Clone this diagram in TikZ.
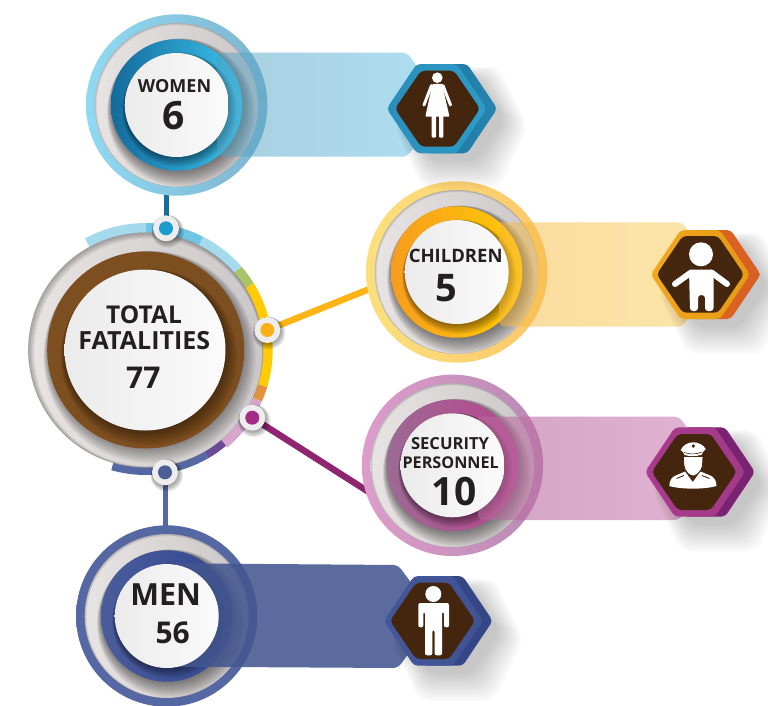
\documentclass[tikz,border=0pt]{standalone}
\usepackage{fontspec}
\setmainfont{Open Sans}
\definecolor{txt}{HTML}{231F20}
\definecolor{brownin}{HTML}{44250D}
\definecolor{brownring}{HTML}{7D4E1F}
\definecolor{greyL}{HTML}{E8E4E3}
\definecolor{greyR}{HTML}{CBC6C7}
\definecolor{whL}{HTML}{EBEBEB}
\definecolor{whR}{HTML}{FBFBFB}
% connectors
\definecolor{HTMLw}{HTML}{136F9C}
\definecolor{HTMLc}{HTML}{FDB515}
\definecolor{HTMLs}{HTML}{8F2470}
\definecolor{HTMLm}{HTML}{5668A3}
% hub arc
\definecolor{HTMLa}{HTML}{A4DAEC}
\definecolor{HTMLb}{HTML}{6EC6E4}
\definecolor{HTMLg}{HTML}{A9C467}
\definecolor{HTMLy}{HTML}{FFCB05}
\definecolor{HTMLo}{HTML}{E2913C}
\definecolor{HTMLp}{HTML}{D6A6CC}
\definecolor{HTMLv}{HTML}{6B4A96}
% outer rings
\definecolor{HTMLwo1}{HTML}{8FDAF3}
\definecolor{HTMLwo2}{HTML}{7FB4CF}
\definecolor{HTMLco1}{HTML}{FCE07C}
\definecolor{HTMLco2}{HTML}{FBC76A}
\definecolor{HTMLso1}{HTML}{DE9CCB}
\definecolor{HTMLso2}{HTML}{B98AB3}
\definecolor{HTMLmo1}{HTML}{5668A3}
\definecolor{HTMLmo2}{HTML}{5668A3}
% inner rings
\definecolor{HTMLwr1}{HTML}{136A9B}
\definecolor{HTMLwr2}{HTML}{3CC4EE}
\definecolor{HTMLcr1}{HTML}{F79C1E}
\definecolor{HTMLcr2}{HTML}{FFCB05}
\definecolor{HTMLsr1}{HTML}{9C6A93}
\definecolor{HTMLsr2}{HTML}{B8458F}
\definecolor{HTMLmr1}{HTML}{4A5C9B}
\definecolor{HTMLmr2}{HTML}{324790}
% bars
\definecolor{HTMLwb1}{HTML}{539FC1}
\definecolor{HTMLwb2}{HTML}{5DC1E5}
\definecolor{HTMLcb1}{HTML}{F7B941}
\definecolor{HTMLcb2}{HTML}{F9CF55}
\definecolor{HTMLsb1}{HTML}{B7679D}
\definecolor{HTMLsb2}{HTML}{CF82B7}
\definecolor{HTMLmb}{HTML}{44568F}
% hexagons
\definecolor{HTMLwh1}{HTML}{2A8FBA}
\definecolor{HTMLwh2}{HTML}{2C9CC8}
\definecolor{HTMLwk1}{HTML}{1D6F9C}
\definecolor{HTMLwk2}{HTML}{2585AE}
\definecolor{HTMLch1}{HTML}{F2A71C}
\definecolor{HTMLch2}{HTML}{E59A16}
\definecolor{HTMLck1}{HTML}{E8691F}
\definecolor{HTMLck2}{HTML}{D65F22}
\definecolor{HTMLsh1}{HTML}{A93A8C}
\definecolor{HTMLsh2}{HTML}{A33A88}
\definecolor{HTMLsk1}{HTML}{7A2370}
\definecolor{HTMLsk2}{HTML}{7A2370}
\definecolor{HTMLmh1}{HTML}{44579A}
\definecolor{HTMLmh2}{HTML}{3F5293}
\definecolor{HTMLmk1}{HTML}{344686}
\definecolor{HTMLmk2}{HTML}{344686}
% dots
\definecolor{HTMLdw}{HTML}{1B9CD0}
\definecolor{HTMLdc}{HTML}{FBB017}
\definecolor{HTMLds}{HTML}{A62D87}
\definecolor{HTMLdm}{HTML}{4A5D95}
\tikzset{
  lab/.style={inner sep=0pt,outer sep=0pt,text=txt,anchor=center},
  link/.style={line width=5pt,line cap=butt},
  icon/.style={fill=white,draw=none},
  strokeicon/.style={draw=white,line cap=round,line join=round}
}
% crescent shadow thrown to the lower right: cx cy r step count opacity
\newcommand\crescent[6]{%
  \foreach \i in {1,...,#5}{\fill[black,opacity=#6] ({#1+0.5*\i*#4},{#2+0.866*\i*#4}) circle ({(#3+\i*#4-0.3)*1pt});}}
% dark rim at the upper left, inside a disc: cx cy r step count opacity
\newcommand\rim[6]{%
  \foreach \i in {1,...,#5}{\fill[black,opacity=#6,even odd rule] ({#1},{#2}) circle ({#3*1pt})
     ({#1+0.7*\i*#4},{#2+0.7*\i*#4}) circle ({(#3-\i*#4)*1pt});}}
\newcommand\hexp[5]{({#1},{(#3+#4)/2}) -- ({#1+#5},{#3}) -- ({#2-#5},{#3}) -- ({#2},{(#3+#4)/2}) -- ({#2-#5},{#4}) -- ({#1+#5},{#4}) -- cycle}
\newcommand\badgeback[6]{%
  \shade[left color=#3,right color=#4] (#1,#2) circle (90.7pt);
  \shade[left color=greyL,right color=greyR] (#1,#2) circle (82pt);
  \rim{#1}{#2}{82}{0.3}{4}{.05}
  \begin{scope}
    \clip (#1,#2) circle (82pt);
    \crescent{#1}{#2}{65.7}{0.85}{10}{.05}
  \end{scope}
  \shade[left color=#5,right color=#6] (#1,#2) circle (65.7pt);
  \begin{scope}
    \clip (#1,#2) circle (65.7pt);
    \crescent{#1}{#2}{52}{0.55}{10}{.05}
  \end{scope}
}
\newcommand\badgefront[2]{\shade[left color=whL,right color=whR] (#1,#2) circle (52pt);}
\newcommand\barshape[7]{\shade[left color=#5,right color=#6,opacity=#7]
  [sharp corners] (#1,#4) -- (#1,#3) [rounded corners=5pt] -- (#2,#3) -- ({#2+0.75*(#4-#3)/2},{(#3+#4)/2}) -- (#2,#4) -- cycle;}
\newcommand\hexa[9]{%
  \def\hxl{#1}\def\hxr{#2}\def\hxt{#3}\def\hxb{#4}\def\inl{#5}\def\inr{#6}\def\intp{#7}\def\inb{#8}\def\hxs{#9}\hexb}
\newcommand\hexb[4]{%
  \foreach \i in {1,...,14}{\fill[black,opacity=.015,rounded corners=10pt]
    \hexp{\hxl+\hxs+8-\i*.8}{\hxr+\hxs+6+\i*1.8}{\hxt+14-\i*.8}{\hxb+6+\i*2.1}{29};}
  \shade[left color=#3,right color=#4,rounded corners=4pt] \hexp{\hxl+\hxs}{\hxr+\hxs}{\hxt}{\hxb}{30};
  \shade[left color=#1,right color=#2,rounded corners=4pt] \hexp{\hxl}{\hxr}{\hxt}{\hxb}{30};
  \fill[brownin,rounded corners=4pt] \hexp{\inl}{\inr}{\intp}{\inb}{26};
}
\newcommand\seg[5]{\draw[line width=#5pt,color=#1] (#2:#4) arc[start angle=#2,end angle=#3,radius=#4 pt];}
\newcommand\dotk[3]{%
  \crescent{#1}{#2}{13}{.6}{6}{.07}
  \fill[white!93!black] (#1,#2) circle (13pt);
  \fill[#3] (#1,#2) circle (7pt);
}
\begin{document}
\begin{tikzpicture}[x=1pt,y=-1pt]
\useasboundingbox (0,0) rectangle (768,705);
\fill[white] (0,0) rectangle (768,705);
\coordinate (women) at (176.7,105);
\coordinate (children) at (456.7,272);
\coordinate (security) at (452.5,465.3);
\coordinate (men) at (166.7,616);
\coordinate (total) at (145.7,350);
\coordinate (dotW) at (166,228.3);
\coordinate (dotC) at (267.3,330);
\coordinate (dotS) at (252.3,417.7);
\coordinate (dotM) at (165,472.3);
\coordinate (wEnd) at (166,180);
\coordinate (cEnd) at (372,288);
\coordinate (sEnd) at (372,494);
\coordinate (mEnd) at (165,535);
\draw[link,color=HTMLw] (dotW) -- (wEnd);
\draw[link,line width=6.5pt,color=HTMLc] (dotC) -- (cEnd);
\draw[link,line width=6.5pt,color=HTMLs] (dotS) -- (sEnd);
\draw[link,color=HTMLm] (dotM) -- (mEnd);
\begin{scope}[shift={(total)},y=1pt]
  \seg{HTMLa}{118.6}{90}{122}{10}
  \seg{HTMLb}{90}{63}{122}{10}
  \seg{HTMLa}{63}{41}{122}{10}
  \seg{HTMLg}{41}{31.7}{122}{10}
  \seg{HTMLy}{31.7}{-17}{122}{10}
  \seg{HTMLo}{-17}{-24}{122}{10}
  \seg{HTMLp}{-24}{-50}{122}{10}
  \seg{HTMLv}{-50}{-60}{121}{8}
  \seg{HTMLm}{-60}{-106}{121}{8}
\end{scope}
\shade[left color=greyL,right color=greyR] (total) circle (117.5pt);
\rim{145.7}{350}{117.5}{0.6}{6}{.05}
\begin{scope}
  \clip (total) circle (117.5pt);
  \crescent{145.7}{350}{98.5}{0.8}{10}{.04}
\end{scope}
\fill[brownring] (total) circle (98.5pt);
\begin{scope}
  \clip (total) circle (98.5pt);
  \crescent{145}{350}{80.5}{0.8}{10}{.045}
\end{scope}
\shade[left color=whL,right color=whR] (145,350) circle (80.5pt);
\badgeback{176.7}{105}{HTMLwo1}{HTMLwo2}{HTMLwr1}{HTMLwr2}
\barshape{217}{407}{52.7}{156.7}{HTMLwb1}{HTMLwb2}{.5}
\badgefront{176.7}{105}
\badgeback{456.7}{272}{HTMLco1}{HTMLco2}{HTMLcr1}{HTMLcr2}
\barshape{499}{682}{222.3}{326.7}{HTMLcb1}{HTMLcb2}{.5}
\badgefront{456.7}{272}
\badgeback{452.5}{465.3}{HTMLso1}{HTMLso2}{HTMLsr1}{HTMLsr2}
\barshape{478}{679}{416.7}{520}{HTMLsb1}{HTMLsb2}{.6}
\badgefront{452.5}{465.3}
\badgeback{166.7}{616}{HTMLmo1}{HTMLmo2}{HTMLmr1}{HTMLmr2}
\shade[left color=HTMLmb,right color=HTMLmb,opacity=.87]
  [sharp corners] (175,666.7) -- (175,563.3) [rounded corners=5pt] -- (398,565) -- (436,616) -- (398,668) -- cycle;
\badgefront{166.7}{616}
\hexa{386.7}{486.7}{64}{153.3}{395}{480}{70.7}{146.7}{10.5}{HTMLwh1}{HTMLwh2}{HTMLwk1}{HTMLwk2}
\hexa{650.7}{750}{230}{319}{656.7}{744}{236}{312.7}{10.7}{HTMLch1}{HTMLch2}{HTMLck1}{HTMLck2}
\hexa{645}{745}{427.3}{516.7}{651.7}{736.7}{434}{510}{10}{HTMLsh1}{HTMLsh2}{HTMLsk1}{HTMLsk2}
\hexa{384}{483}{576}{665.7}{390}{475}{582.7}{659}{9.7}{HTMLmh1}{HTMLmh2}{HTMLmk1}{HTMLmk2}
% woman icon
\fill[icon] (437.3,77.7) circle (5.3pt);
\fill[icon,rounded corners=1pt] (432.5,83.8) -- (442,83.8) -- (449.5,116.7) -- (425.3,116.7) -- cycle;
\draw[strokeicon,line width=3pt] (431.5,85.5) -- (424,105);
\draw[strokeicon,line width=3pt] (443,85.5) -- (450.5,105);
\fill[icon,rounded corners=1pt] (431.7,115) -- (436,115) -- (436,137.7) -- (431.7,137.7) -- cycle;
\fill[icon,rounded corners=1pt] (439,115) -- (443.3,115) -- (443.3,137.7) -- (439,137.7) -- cycle;
% child icon
\fill[icon] (701,254.3) circle (12pt);
\fill[icon,rounded corners=3pt] (689,269.5) -- (713.5,269.5) -- (713.5,311) -- (705,311) -- (705,295) -- (698,295) -- (698,311) -- (690,311) -- cycle;
\draw[strokeicon,line width=6pt] (691,272.5) -- (675,284);
\draw[strokeicon,line width=6pt] (711.5,272.5) -- (727,284);
% officer icon
\fill[icon] (669.3,486) .. controls (669.5,480) and (672,476.5) .. (677,475) -- (685,471.5) -- (692.7,482) -- (700.5,471.5) -- (709,475) .. controls (714,476.5) and (716.3,480) .. (716.5,486) .. controls (705,489.5) and (681,489.5) .. (669.3,486) -- cycle;
\fill[icon,draw=brownin,line width=.8pt] (683.3,456.5) -- (703,456.5) -- (702.5,466) .. controls (701,472) and (696,476) .. (693,476) .. controls (690,476) and (685,472) .. (684,466) -- cycle;
\fill[icon] (680.7,450) .. controls (683,445) and (688,442.3) .. (693.3,442.3) .. controls (698.5,442.3) and (703.5,445) .. (705.7,449) .. controls (703,451) and (702.5,453) .. (701.5,454.7) .. controls (696,456.5) and (690,456.5) .. (684.5,455) .. controls (684,453) and (683,451.5) .. (680.7,450) -- cycle;
\fill[brownin] (693.3,446) circle (1.8pt);
\draw[brownin,line width=.6pt] (684,452.5) .. controls (690,454.5) and (696,454.5) .. (702,452);
\draw[brownin,line width=.9pt] (676.5,478.5) -- (684,475.5);
\draw[brownin,line width=.9pt] (702,475.5) -- (709.5,478.5);
% man icon
\fill[icon] (433.3,594) circle (8pt);
\fill[icon,rounded corners=2pt] (418.3,603) -- (449,603) -- (449,627.3) -- (444,627.3) -- (444,612) -- (442,612) -- (442,655.3) -- (434.6,655.3) -- (434.6,630) -- (432.3,630) -- (432.3,655.3) -- (425,655.3) -- (425,612) -- (423.3,612) -- (423.3,627.3) -- (418.3,627.3) -- cycle;
\dotk{166}{228.3}{HTMLdw}
\dotk{267.3}{330}{HTMLdc}
\dotk{252.3}{417.7}{HTMLds}
\dotk{165}{472.3}{HTMLdm}
\node[lab,font=\bfseries\fontsize{18}{20}\selectfont] (tw) at (174.5,86) {WOMEN};
\node[lab,font=\bfseries\fontsize{39}{40}\selectfont] (nw) at (174,116) {6};
\node[lab,font=\bfseries\fontsize{18.5}{20}\selectfont] (tc) at (455.7,255.7) {CHILDREN};
\node[lab,font=\bfseries\fontsize{38}{40}\selectfont] (nc) at (446.7,288.3) {5};
\node[lab,font=\bfseries\fontsize{16.6}{18}\selectfont] (ts) at (450,443.3) {SECURITY};
\node[lab,font=\bfseries\fontsize{16.2}{18}\selectfont] (ts2) at (450.7,462.7) {PERSONNEL};
\node[lab,font=\bfseries\fontsize{39}{40}\selectfont] (ns) at (454,491.7) {10};
\node[lab,font=\bfseries\fontsize{30.5}{32}\selectfont] (tm) at (165.7,594.3) {MEN};
\node[lab,font=\bfseries\fontsize{30}{32}\selectfont] (nm) at (172.7,633.3) {56};
\node[lab,font=\bfseries\fontsize{24.5}{26}\selectfont] (tt) at (144,314.3) {TOTAL};
\node[lab,font=\bfseries\fontsize{25}{27}\selectfont] (tt2) at (144.3,341) {FATALITIES};
\node[lab,font=\bfseries\fontsize{30}{32}\selectfont] (nt) at (143.3,377.7) {77};
\end{tikzpicture}
\end{document}
